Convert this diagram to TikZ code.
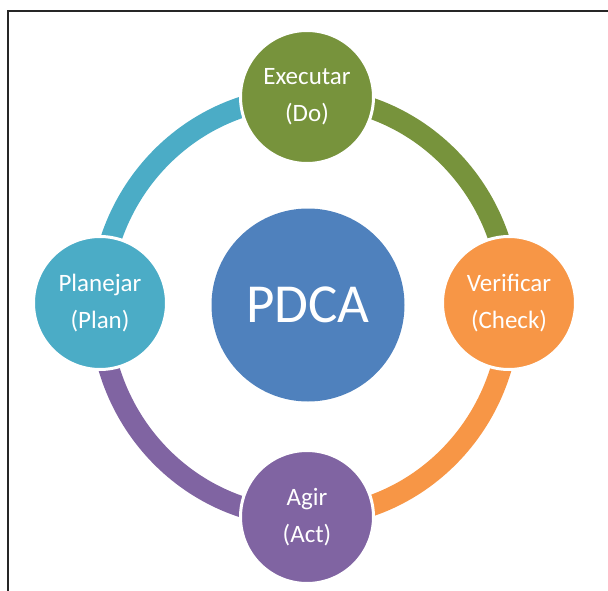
\documentclass[tikz,border=0pt]{standalone}
\usepackage{fontspec}
\setmainfont{Carlito}
\definecolor{cgreen}{HTML}{77933C}
\definecolor{corange}{HTML}{F79646}
\definecolor{cpurple}{HTML}{8064A2}
\definecolor{cteal}{HTML}{4BACC6}
\definecolor{cblue}{HTML}{4F81BD}
\begin{document}
\begin{tikzpicture}[x=1pt,y=-1pt,
  phase/.style={circle,minimum size=133pt,inner sep=0pt,draw=white,line width=3pt,text=white,font=\fontsize{25}{37}\selectfont,align=center},
  ring/.style={line width=21pt}]
\useasboundingbox (0,0) rectangle (608,591);
\draw[line width=2pt,black!85] (8,591) -- (8,11) -- (608,11);
% ring
\def\cx{305}\def\cy{307}\def\rx{205}\def\ry{210}
\draw[ring,cgreen] (\cx,\cy-\ry) arc[start angle=-90,end angle=0,x radius=\rx,y radius=\ry];
\draw[ring,corange] (\cx+\rx,\cy) arc[start angle=0,end angle=90,x radius=\rx,y radius=\ry];
\draw[ring,cpurple] (\cx,\cy+\ry) arc[start angle=90,end angle=180,x radius=\rx,y radius=\ry];
\draw[ring,cteal] (\cx-\rx,\cy) arc[start angle=180,end angle=270,x radius=\rx,y radius=\ry];
\node[phase,fill=cgreen] (do) at (307,97) {Executar\\(Do)};
\node[phase,fill=corange] (check) at (509,303) {Verificar\\(Check)};
\node[phase,fill=cpurple] (act) at (307,517) {Agir\\(Act)};
\node[phase,fill=cteal] (plan) at (100,303) {Planejar\\(Plan)};
\node[circle,fill=cblue,minimum size=193pt,inner sep=0pt,text=white,font=\fontsize{55}{60}\selectfont] (pdca) at (308,305) {PDCA};
\end{tikzpicture}
\end{document}
